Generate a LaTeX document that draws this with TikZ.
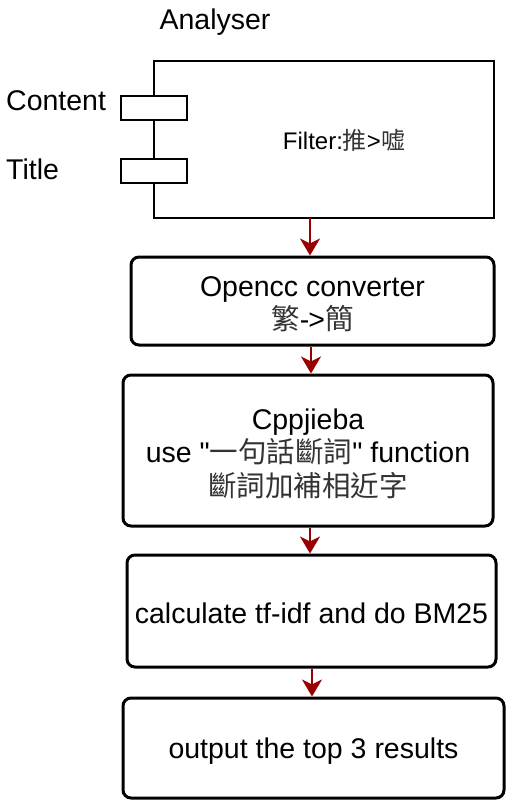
\documentclass[tikz,border=0pt]{standalone}
\usepackage{fontspec}
\setmainfont{Liberation Sans}
\newfontfamily\cjk{Noto Sans CJK TC}
\usetikzlibrary{arrows.meta}
\definecolor{arrowred}{HTML}{990000}
\definecolor{cjkgray}{HTML}{333333}
\newcommand{\zh}[1]{{\cjk\color{cjkgray}#1}}
\tikzset{
  procbox/.style={draw=black, line width=3pt, rounded corners=8pt},
  portbox/.style={draw=black, line width=1.5pt, fill=white},
  flow/.style={draw=arrowred, line width=2pt, -{Stealth[length=17pt,width=20pt,inset=5pt]}},
  lbl/.style={font=\fontsize{28.5}{33.5}\selectfont, align=center, inner sep=0pt},
}
\begin{document}
\begin{tikzpicture}[x=1pt,y=-1pt]
\useasboundingbox (0,0) rectangle (524,811);
% Analyser component
\node[lbl, anchor=center] (analyserlbl) at (215,22) {Analyser};
\draw[line width=1.5pt] (154,61) rectangle (494,218);
\node[portbox, minimum width=66pt, minimum height=24pt, inner sep=0pt] (content) at (154,108) {};
\node[portbox, minimum width=66pt, minimum height=24pt, inner sep=0pt] (title) at (154,171) {};
\node[lbl, anchor=west] (contentlbl) at (6,101) {Content};
\node[lbl, anchor=west] (titlelbl) at (6,169) {Title};
\node[inner sep=0pt, font=\fontsize{24}{28}\selectfont] (filter) at (344,140) {Filter:\zh{推}>\zh{嘘}};
\coordinate (analyserbot) at (310,218);
% process boxes
\node[procbox, minimum width=363pt, minimum height=88pt] (opencc) at (312.5,301) {};
\node[lbl] (openccT) at (312.5,304) {Opencc converter\\ \zh{繁}-\kern-1pt>\zh{簡}};
\node[procbox, minimum width=370pt, minimum height=151pt] (cppjieba) at (308,450.5) {};
\node[lbl] (cppjiebaT) at (308,453.5)
  {Cppjieba\\ use \textquotedbl\zh{一句話斷詞}\textquotedbl{} function\\ \zh{斷詞加補相近字}};
\node[procbox, minimum width=369pt, minimum height=112pt] (calc) at (311.5,611) {};
\node[lbl] (calcT) at (311.5,613) {calculate tf-idf and do BM25};
\node[procbox, minimum width=381pt, minimum height=100pt] (output) at (313.5,748) {};
\node[lbl] (outputT) at (313.5,751) {output the top 3 results};
% connectors
\draw[flow] (analyserbot) -- (analyserbot |- opencc.north);
\draw[flow] (opencc.south -| 311,0) -- (cppjieba.north -| 311,0);
\draw[flow] (cppjieba.south -| 310,0) -- (calc.north -| 310,0);
\draw[flow] (calc.south -| 312,0) -- (output.north -| 312,0);
\end{tikzpicture}
\end{document}
